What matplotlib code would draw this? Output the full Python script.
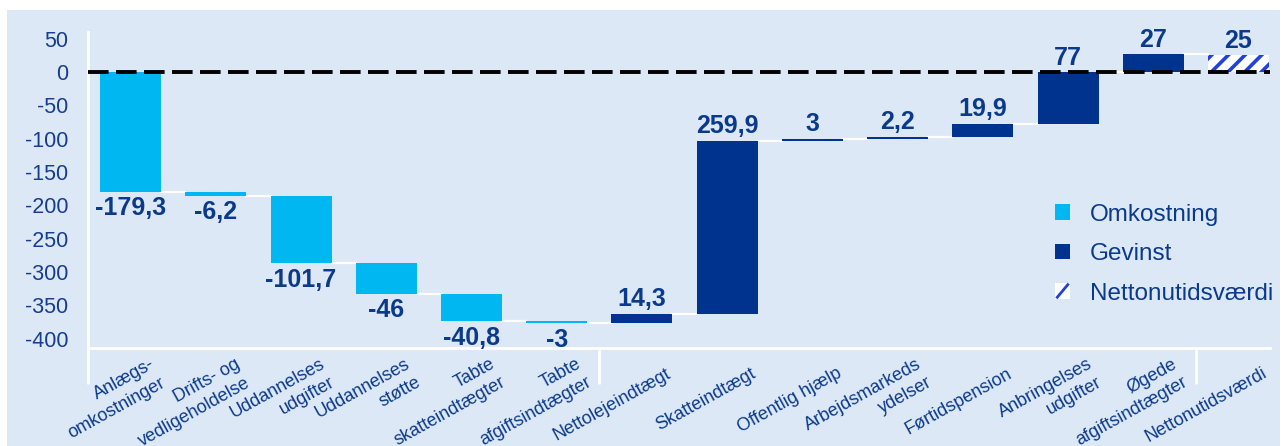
import matplotlib
matplotlib.use("Agg")
import matplotlib.pyplot as plt
from matplotlib.legend_handler import HandlerBase
from matplotlib.lines import Line2D
from matplotlib.patches import Patch, Rectangle

# data (mia. kr.)
categories = [
    "Anlægs-\nomkostninger",
    "Drifts- og\nvedligeholdelse",
    "Uddannelses\nudgifter",
    "Uddannelses\nstøtte",
    "Tabte\nskatteindtægter",
    "Tabte\nafgiftsindtægter",
    "Nettolejeindtægt",
    "Skatteindtægt",
    "Offentlig hjælp",
    "Arbejdsmarkeds\nydelser",
    "Førtidspension",
    "Anbringelses\nudgifter",
    "Øgede\nafgiftsindtægter",
    "Nettonutidsværdi",
]
changes = [-179.3, -6.2, -101.7, -46, -40.8, -3, 14.3, 259.9, 3, 2.2, 19.9, 77, 27]
net_value = 25
y_ticks = [50, 0, -50, -100, -150, -200, -250, -300, -350, -400]
legend_labels = ["Omkostning", "Gevinst", "Nettonutidsværdi"]

# colours
BG = "#dce8f6"
COST = "#00b7f1"
GAIN = "#00338d"
HATCH = "#2040e0"
TXT = "#0b3a8c"
TICK_TXT = "#173d8f"

plt.rcParams["font.family"] = ["Liberation Sans", "DejaVu Sans"]
plt.rcParams["hatch.linewidth"] = 2.6


class HatchHandle(HandlerBase):
    """white square with one diagonal stroke, like the Excel legend key"""

    def create_artists(self, legend, orig_handle, xdescent, ydescent,
                       width, height, fontsize, trans):
        sq = Rectangle((-xdescent, -ydescent), width, height,
                       facecolor="white", edgecolor="none", transform=trans)
        ln = Line2D([-xdescent + 0.15 * width, -xdescent + 0.85 * width],
                    [-ydescent + 0.1 * height, -ydescent + 0.9 * height],
                    color=HATCH, lw=2, transform=trans)
        return [sq, ln]


fig = plt.figure(figsize=(12.87, 4.46), dpi=100)
fig.patches.append(Rectangle((7 / 1287, 0), 1273 / 1287, 436 / 446,
                             transform=fig.transFigure, facecolor=BG,
                             edgecolor="none", zorder=-5))
ax = fig.add_axes([88 / 1287, 1 - 348 / 446, 1182 / 1287, 316 / 446])
ax.set_facecolor(BG)

bar_w = 0.716
level = 0.0
levels = []
for i, ch in enumerate(changes):
    bottom = level if ch > 0 else level + ch
    ax.bar(i, abs(ch), bottom=bottom, width=bar_w,
           color=GAIN if ch > 0 else COST, linewidth=0, zorder=2)
    level += ch
    levels.append(level)
    lab = f"{ch:g}".replace(".", ",")
    if ch > 0:
        ax.annotate(lab, (i, level), xytext=(0, 2), textcoords="offset points",
                    ha="center", va="bottom", fontsize=18, fontweight="bold",
                    color=TXT, zorder=5)
    else:
        ax.annotate(lab, (i, level), xytext=(0, -3), textcoords="offset points",
                    ha="center", va="top", fontsize=18, fontweight="bold",
                    color=TXT, zorder=5)

n = len(changes)
ax.bar(n, net_value, bottom=0, width=bar_w, color="white", edgecolor=HATCH,
       hatch="//", linewidth=0, zorder=2)
ax.annotate(f"{net_value:g}", (n, net_value), xytext=(0, 2), textcoords="offset points",
            ha="center", va="bottom", fontsize=18, fontweight="bold", color=TXT)

# white connectors between the bars
for i, lv in enumerate(levels):
    ax.plot([i + bar_w / 2, i + 1 - bar_w / 2], [lv, lv], color="white", lw=1.6, zorder=1.5)

ax.axhline(0, color="black", lw=2.8, dashes=(5.3, 1.9), zorder=4)

ax.set_xlim(-0.5, 13.37)
ax.set_ylim(-414, 60)
ax.set_yticks(y_ticks)
ax.set_yticklabels([str(v) for v in y_ticks], fontsize=15.5, color=TICK_TXT)
ax.tick_params(axis="y", length=0, pad=14)

# group separators below the axis
ax.set_xticks([-0.5, 5.5, 12.5])
ax.set_xticklabels([])
ax.tick_params(axis="x", direction="out", length=26, width=2, color="white")

for side in ["top", "right"]:
    ax.spines[side].set_visible(False)
for side in ["left", "bottom"]:
    ax.spines[side].set_color("white")
    ax.spines[side].set_linewidth(2)

# category labels: right-aligned lines, block anchored at its right-centre
for i, cat in enumerate(categories):
    ax.annotate(cat, (i, 0), xycoords=ax.get_xaxis_transform(),
                xytext=(20, -17.5), textcoords="offset points",
                rotation=29, rotation_mode="anchor", ha="right", va="center",
                multialignment="right", fontsize=13, color=TXT,
                linespacing=1.33, annotation_clip=False)

handles = [
    Patch(facecolor=COST, linewidth=0),
    Patch(facecolor=GAIN, linewidth=0),
    Patch(facecolor="white", linewidth=0),
]
leg = fig.legend(handles, legend_labels, loc="center left",
                 bbox_to_anchor=(1055 / 1287, 1 - 254 / 446),
                 frameon=False, fontsize=17.5, labelcolor=TXT,
                 handlelength=0.62, handleheight=0.62, handletextpad=0.8,
                 labelspacing=0.72, borderpad=0, borderaxespad=0,
                 handler_map={handles[2]: HatchHandle()})

plt.savefig("out.png", dpi=100, facecolor="white")
plt.close()
